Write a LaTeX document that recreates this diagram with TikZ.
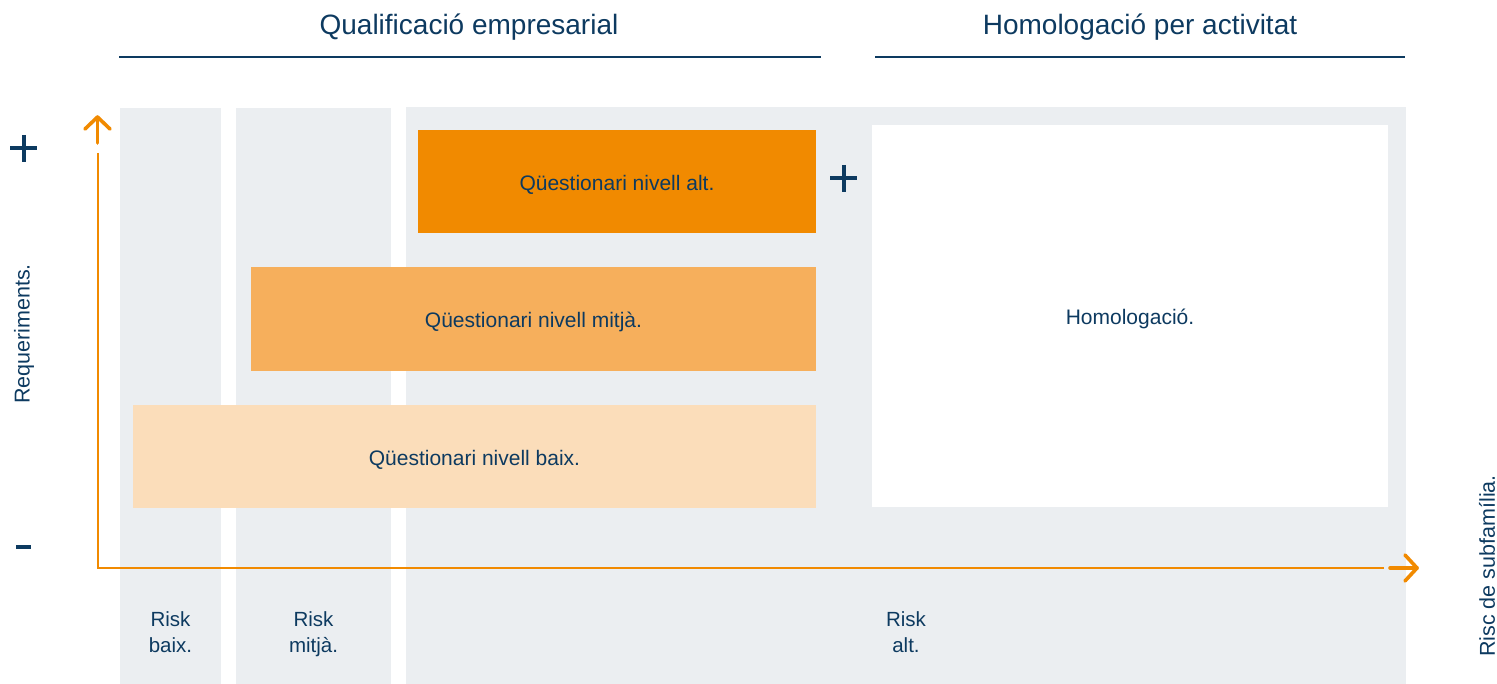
\documentclass[tikz,border=0pt]{standalone}
\usepackage{fontspec}
\setmainfont{Liberation Sans}
\definecolor{navy}{HTML}{0D3A60}
\definecolor{panel}{HTML}{EBEEF1}
\definecolor{ohigh}{HTML}{F18A00}
\definecolor{omid}{HTML}{F6AF5C}
\definecolor{olow}{HTML}{FBDDBA}
\begin{document}
\begin{tikzpicture}[x=1pt,y=-1pt,
  panelbox/.style={fill=panel,draw=none},
  qbox/.style={draw=none,inner sep=0pt,text=navy,text height=22pt,text depth=4pt,font=\fontsize{21}{24}\selectfont},
  lbl/.style={text=navy,inner sep=0pt,font=\fontsize{20.5}{26}\selectfont,align=center},
  vlbl/.style={text=navy,inner sep=0pt,font=\fontsize{21.5}{26}\selectfont,rotate=90},
  title/.style={text=navy,inner sep=0pt,font=\fontsize{28}{32}\selectfont},
  axisline/.style={draw=ohigh,line width=2pt},
  axishead/.style={draw=ohigh,line width=3.6pt,line cap=round,line join=round},
  signline/.style={draw=navy,line width=4pt}]
\useasboundingbox (0,0) rectangle (1497,684);
% panels
\fill[panelbox] (120,108) rectangle (221,684);
\fill[panelbox] (236,108) rectangle (391,684);
\fill[panelbox] (406,107) rectangle (1406,684);
% titles
\node[title] (t1) at (469,27) {Qualificació empresarial};
\node[title] (t2) at (1140,27) {Homologació per activitat};
\draw[navy,line width=2.5pt] (119,57) -- (821,57);
\draw[navy,line width=2.5pt] (875,57) -- (1405,57);
% boxes
\node[qbox,fill=ohigh,minimum width=398pt,minimum height=103pt] (alt) at (617,181.5) {Qüestionari nivell alt.};
\node[qbox,fill=omid,minimum width=565pt,minimum height=104pt] (mid) at (533.5,319) {Qüestionari nivell mitjà.};
\node[qbox,fill=olow,minimum width=683pt,minimum height=103pt] (low) at (474.5,456.5) {Qüestionari nivell baix.};
\node[qbox,fill=white,minimum width=516pt,minimum height=382pt] (hom) at (1130,316) {Homologació.};
% risk labels
\node[lbl] (r1) at (170.5,632) {Risk\\baix.};
\node[lbl] (r2) at (313.5,634) {Risk\\mitjà.};
\node[lbl] (r3) at (906,632) {Risk\\alt.};
% vertical labels
\node[vlbl] (req) at (24,334) {Requeriments.};
\node[vlbl] (risc) at (1487,566) {Risc de subfamília.};
% axes
\coordinate (o) at (97.5,568);
\coordinate (ytop) at (97.5,153);
\coordinate (xend) at (1384,568);
\draw[axisline] (ytop) -- (o) -- (xend);
\draw[axishead] (97.5,143) -- (97.5,117);
\draw[axishead] (85,129) -- (97.5,117) -- (110,129);
\draw[axishead] (1390,568) -- (1417,568);
\draw[axishead] (1405,555) -- (1417,568) -- (1405,581);
% signs
\draw[signline] (10,148.5) -- (37,148.5);
\draw[signline] (23.5,135) -- (23.5,162);
\draw[signline] (16,546.5) -- (31,546.5);
\draw[signline] (830,178.5) -- (857,178.5);
\draw[signline] (843.5,165) -- (843.5,192);
\end{tikzpicture}
\end{document}
